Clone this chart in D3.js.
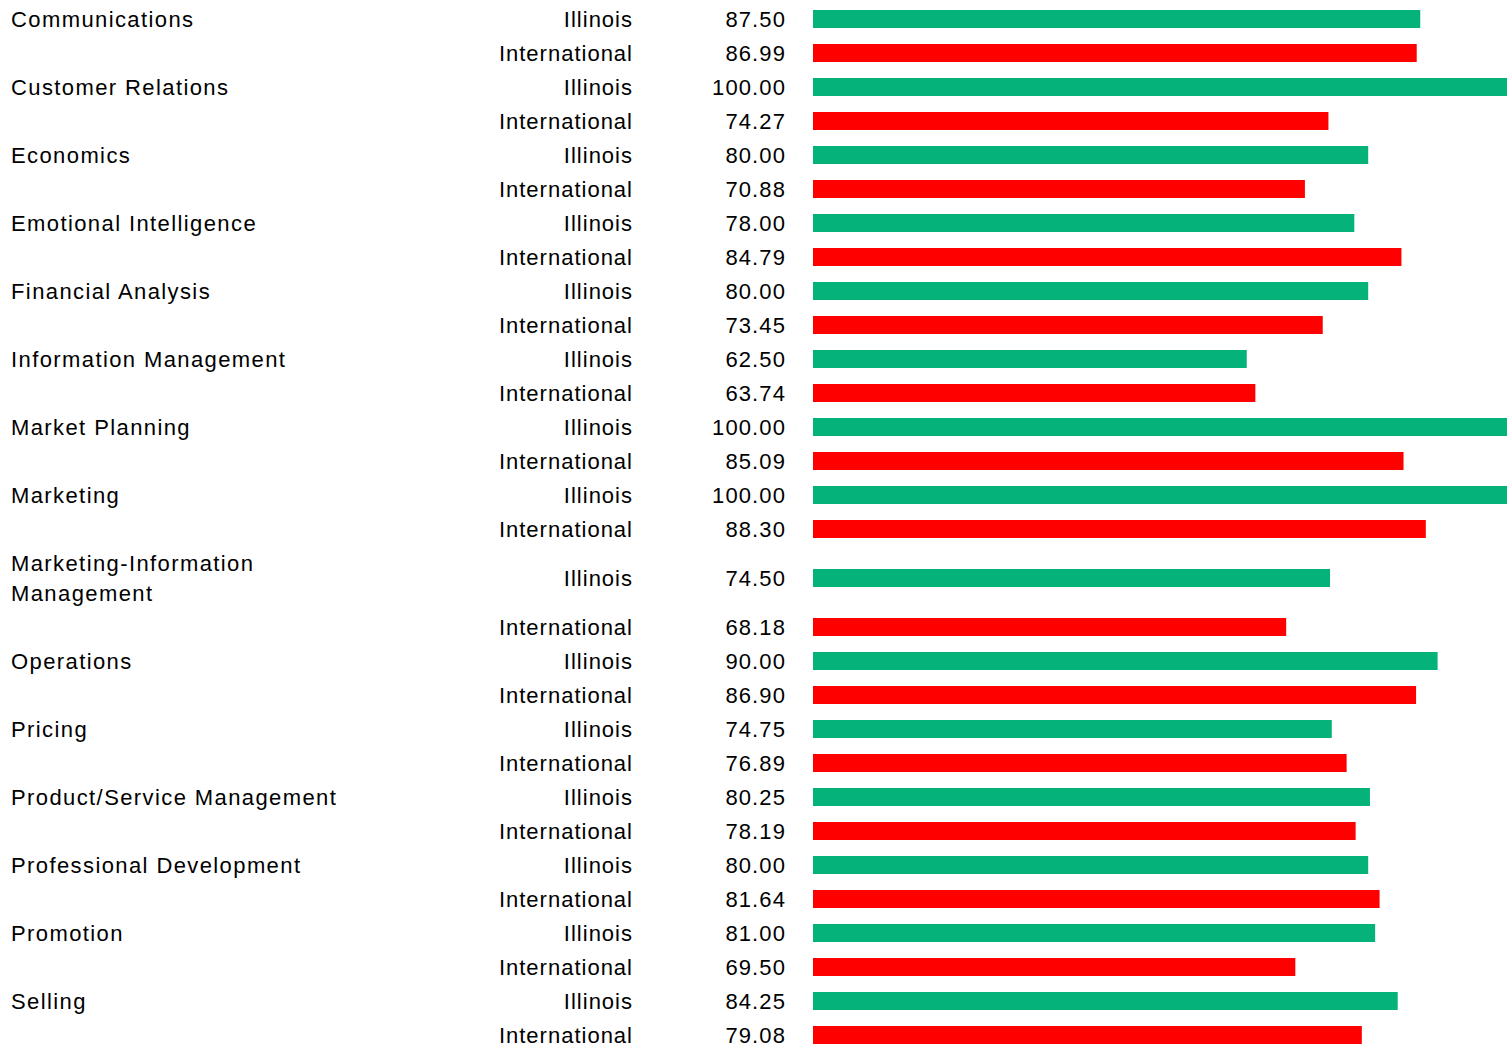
<!DOCTYPE html>
<html lang="en">
<head>
  <meta charset="UTF-8">
  <title>Illinois vs International</title>
  <script src="https://d3js.org/d3.v7.min.js"></script>
  <style>
    body {
      margin: 0;
      background: #fff;
      font-family: Arial, "Liberation Sans", sans-serif;
    }
    svg text {
      font-size: 22px;
      fill: #000;
    }
  </style>
</head>
<body>
  <div id="chart"></div>
  <script>
    const categories = [
      'Communications', 'Customer Relations', 'Economics', 'Emotional Intelligence',
      'Financial Analysis', 'Information Management', 'Market Planning', 'Marketing',
      'Marketing-Information Management', 'Operations', 'Pricing',
      'Product/Service Management', 'Professional Development', 'Promotion', 'Selling'
    ];
    const seriesNames = ['Illinois', 'International'];
    const illinoisValues = [87.50, 100.00, 80.00, 78.00, 80.00, 62.50, 100.00, 100.00, 74.50, 90.00, 74.75, 80.25, 80.00, 81.00, 84.25];
    const internationalValues = [86.99, 74.27, 70.88, 84.79, 73.45, 63.74, 85.09, 88.30, 68.18, 86.90, 76.89, 78.19, 81.64, 69.50, 79.08];
    const seriesColors = ['#05b27a', '#ff0000'];

    const W = 1510, H = 1049;
    const labelX = 11, seriesRight = 633, valueRight = 786;
    const rowH = 34, lineH = 30, barH = 18, wrapWidth = 360;

    const svg = d3.select('#chart').append('svg')
      .attr('width', W).attr('height', H);

    const x = d3.scaleLinear().domain([0, 100]).range([813, 1507]);

    // wrap category labels (break after hyphen or space)
    const probe = svg.append('text').attr('visibility', 'hidden').style('letter-spacing', '1.4px');
    function wrap(label) {
      const parts = label.split(/(?<=[-\s])/);
      const lines = [];
      let cur = '';
      parts.forEach(p => {
        const test = cur + p;
        probe.text(test.trim());
        if (cur && probe.node().getComputedTextLength() > wrapWidth) {
          lines.push(cur.trim());
          cur = p;
        } else cur = test;
      });
      lines.push(cur.trim());
      return lines;
    }
    const labelLines = categories.map(wrap);
    probe.remove();

    // rows: one per category/series pair, height grows for wrapped labels
    const rows = [];
    let yCursor = 2;
    categories.forEach((cat, i) => {
      seriesNames.forEach((s, j) => {
        const h = j === 0 ? Math.max(rowH, labelLines[i].length * lineH + 4) : rowH;
        rows.push({
          category: cat, ci: i, series: s, si: j,
          value: j === 0 ? illinoisValues[i] : internationalValues[i],
          cy: yCursor + h / 2
        });
        yCursor += h;
      });
    });

    const g = svg.append('g');

    const catRows = rows.filter(r => r.si === 0);
    g.selectAll('text.cat')
      .data(catRows)
      .join('text')
      .attr('class', 'cat')
      .attr('x', labelX)
      .attr('y', d => d.cy - (labelLines[d.ci].length - 1) * lineH / 2)
      .style('letter-spacing', '1.4px')
      .each(function (d) {
        const t = d3.select(this);
        labelLines[d.ci].forEach((line, k) => {
          t.append('tspan')
            .attr('x', labelX)
            .attr('dy', k === 0 ? '0.35em' : lineH)
            .text(line);
        });
      });

    g.selectAll('text.series')
      .data(rows)
      .join('text')
      .attr('class', 'series')
      .attr('x', seriesRight)
      .attr('y', d => d.cy)
      .attr('dy', '0.35em')
      .attr('text-anchor', 'end')
      .style('letter-spacing', '1px')
      .text(d => d.series);

    g.selectAll('text.value')
      .data(rows)
      .join('text')
      .attr('class', 'value')
      .attr('x', valueRight)
      .attr('y', d => d.cy)
      .attr('dy', '0.35em')
      .attr('text-anchor', 'end')
      .style('letter-spacing', '1.1px')
      .text(d => d.value.toFixed(2));

    g.selectAll('rect.bar')
      .data(rows)
      .join('rect')
      .attr('class', 'bar')
      .attr('x', x(0))
      .attr('y', d => d.cy - barH / 2)
      .attr('width', d => x(d.value) - x(0))
      .attr('height', barH)
      .attr('fill', d => seriesColors[d.si]);
  </script>
</body>
</html>
